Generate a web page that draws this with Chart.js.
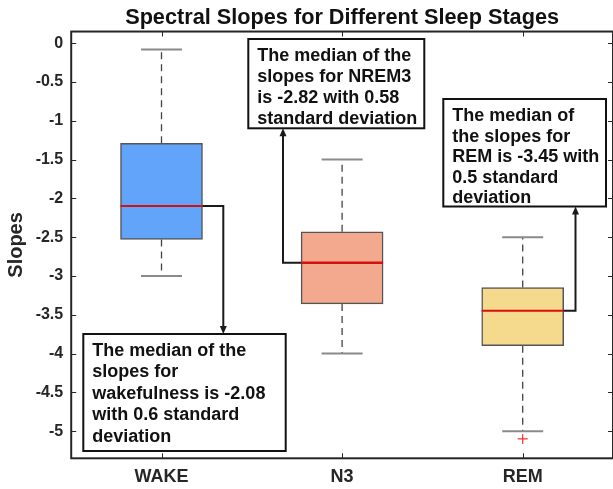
<!DOCTYPE html>
<html><head><meta charset="utf-8">
<script src="https://cdn.jsdelivr.net/npm/chart.js@4.4.1/dist/chart.umd.min.js"></script>
<style>html,body{margin:0;padding:0;background:#fff;}#wrap{width:613px;height:489px;}</style>
</head><body><div id="wrap"><canvas id="c" width="613" height="489"></canvas></div>
<script>
const categories = ['WAKE', 'N3', 'REM'];
const whiskerHigh = [-0.08, -1.5, -2.5];
const q3 = [-1.29, -2.43, -3.15];
const medians = [-2.1, -2.83, -3.45];
const q1 = [-2.53, -3.36, -3.9];
const whiskerLow = [-3.0, -4.0, -5.0];
const outliers = [null, null, -5.1];
const yTicks = [0, -0.5, -1, -1.5, -2, -2.5, -3, -3.5, -4, -4.5, -5];
const boxColors = ['#62a4f9', '#f2a98d', '#f5d98d'];
const titleText = 'Spectral Slopes for Different Sleep Stages';
const yTitle = 'Slopes';
const noteLines = [
  ['The median of the', 'slopes for', 'wakefulness is -2.08', 'with 0.6 standard', 'deviation'],
  ['The median of the', 'slopes for NREM3', 'is -2.82 with 0.58', 'standard deviation'],
  ['The median of', 'the slopes for', 'REM is -3.45 with', '0.5 standard', 'deviation']
];
// layout of the annotation boxes (pixels), line spacing and arrow elbows
const noteBoxes = [[83.3, 334, 285.7, 451], [248.3, 39, 424.3, 128.3], [443.3, 99, 606, 206.5]];
const noteSpacing = [21.4, 20.9, 20.5];
const noteSide = ['right', 'left', 'right'];
const noteElbowX = [223.3, 283, 575.5];

const FONT = '"Liberation Sans", Arial, sans-serif';
const INK = '#262626';

const boxPlugin = {
  id: 'boxParts',
  beforeDatasetsDraw(chart) {
    const ctx = chart.ctx, xs = chart.scales.x, ys = chart.scales.y;
    ctx.save();
    categories.forEach((c, i) => {
      const x = xs.getPixelForValue(i);
      ctx.strokeStyle = '#444';
      ctx.lineWidth = 1.3;
      ctx.setLineDash([7, 5]);
      ctx.beginPath();
      ctx.moveTo(x, ys.getPixelForValue(q3[i])); ctx.lineTo(x, ys.getPixelForValue(whiskerHigh[i]));
      ctx.moveTo(x, ys.getPixelForValue(q1[i])); ctx.lineTo(x, ys.getPixelForValue(whiskerLow[i]));
      ctx.stroke();
      ctx.setLineDash([]);
      ctx.strokeStyle = '#8a8a8a';
      ctx.lineWidth = 2;
      ctx.beginPath();
      const hw = 20.5;
      let yy = ys.getPixelForValue(whiskerHigh[i]);
      ctx.moveTo(x - hw, yy); ctx.lineTo(x + hw, yy);
      yy = ys.getPixelForValue(whiskerLow[i]);
      ctx.moveTo(x - hw, yy); ctx.lineTo(x + hw, yy);
      ctx.stroke();
    });
    ctx.restore();
  },
  afterDatasetsDraw(chart) {
    const ctx = chart.ctx, ys = chart.scales.y;
    const meta = chart.getDatasetMeta(0);
    ctx.save();
    categories.forEach((c, i) => {
      const bar = meta.data[i];
      const y = ys.getPixelForValue(medians[i]);
      ctx.strokeStyle = '#d41010';
      ctx.lineWidth = i === 1 ? 2.6 : 2;
      ctx.beginPath();
      ctx.moveTo(bar.x - bar.width / 2, y); ctx.lineTo(bar.x + bar.width / 2, y);
      ctx.stroke();
    });
    ctx.restore();
  },
  afterDraw(chart) {
    const ctx = chart.ctx, ys = chart.scales.y, xs = chart.scales.x;
    const a = chart.chartArea;
    const meta = chart.getDatasetMeta(0);
    ctx.save();
    // frame
    ctx.strokeStyle = INK;
    ctx.lineWidth = 2;
    ctx.strokeRect(a.left, a.top, a.right - a.left, a.bottom - a.top);
    // inward ticks
    ctx.lineWidth = 1;
    ctx.beginPath();
    yTicks.forEach(v => {
      const y = Math.round(ys.getPixelForValue(v)) + 0.5;
      ctx.moveTo(a.left, y); ctx.lineTo(a.left + 5, y);
      ctx.moveTo(a.right, y); ctx.lineTo(a.right - 5, y);
    });
    categories.forEach((c, i) => {
      const x = Math.round(xs.getPixelForValue(i)) + 0.5;
      ctx.moveTo(x, a.top); ctx.lineTo(x, a.top + 5);
      ctx.moveTo(x, a.bottom); ctx.lineTo(x, a.bottom - 5);
    });
    ctx.stroke();
    // annotations
    noteLines.forEach((lines, i) => {
      const [l, t, r, b] = noteBoxes[i];
      const bar = meta.data[i];
      const y0 = ys.getPixelForValue(medians[i]);
      const x0 = noteSide[i] === 'right' ? bar.x + bar.width / 2 : bar.x - bar.width / 2;
      const ex = noteElbowX[i];
      const ty = t > y0 ? t : b;
      ctx.strokeStyle = '#1a1a1a';
      ctx.fillStyle = '#1a1a1a';
      ctx.lineWidth = 2;
      ctx.beginPath();
      ctx.moveTo(x0, y0); ctx.lineTo(ex, y0);
      const dir = ty > y0 ? 1 : -1;
      ctx.lineTo(ex, ty - dir * 6);
      ctx.stroke();
      ctx.beginPath();
      ctx.moveTo(ex, ty); ctx.lineTo(ex - 3.5, ty - dir * 8); ctx.lineTo(ex + 3.5, ty - dir * 8);
      ctx.closePath(); ctx.fill();
      ctx.fillStyle = '#fff';
      ctx.fillRect(l, t, r - l, b - t);
      ctx.strokeStyle = '#111';
      ctx.lineWidth = 2;
      ctx.strokeRect(l, t, r - l, b - t);
      ctx.fillStyle = '#111';
      ctx.font = 'bold 18px ' + FONT;
      ctx.textBaseline = 'alphabetic';
      ctx.textAlign = 'left';
      lines.forEach((s, k) => ctx.fillText(s, l + 9, t + 22 + k * noteSpacing[i]));
    });
    ctx.restore();
  }
};

new Chart(document.getElementById('c'), {
  data: {
    labels: categories,
    datasets: [
      {
        type: 'bar',
        data: categories.map((c, i) => [q1[i], q3[i]]),
        backgroundColor: boxColors,
        borderColor: '#555',
        borderWidth: 1.5,
        borderSkipped: false,
        barThickness: 82
      },
      {
        type: 'line',
        data: outliers,
        showLine: false,
        pointStyle: 'cross',
        pointRadius: 5,
        pointBorderColor: '#ff3030',
        pointBorderWidth: 1.2,
        pointBackgroundColor: '#ff3030'
      }
    ]
  },
  options: {
    responsive: false,
    animation: false,
    devicePixelRatio: 1,
    layout: { autoPadding: false, padding: { left: 0, right: -2.5, top: 0, bottom: 0 } },
    plugins: {
      legend: { display: false },
      tooltip: { enabled: false },
      title: {
        display: true, text: titleText, fullSize: false, color: '#111',
        font: { family: FONT, size: 21.7, weight: 'bold', lineHeight: 1.2 },
        padding: { top: 5, bottom: 0.5 }
      }
    },
    scales: {
      x: {
        type: 'category',
        offset: true,
        grid: { display: false, drawTicks: false },
        border: { display: false },
        ticks: { color: INK, padding: 8, font: { family: FONT, size: 18, weight: 'bold' } },
        afterFit(s) { s.height = 30.7; }
      },
      y: {
        type: 'linear',
        min: -5.35, max: 0.15,
        grid: { display: false, drawTicks: false },
        border: { display: false },
        afterBuildTicks(s) { s.ticks = yTicks.map(v => ({ value: v })); },
        ticks: { color: INK, padding: 8, font: { family: FONT, size: 16, weight: 'bold' }, callback: v => String(v) },
        title: { display: true, text: yTitle, color: INK, font: { family: FONT, size: 20, weight: 'bold' }, padding: { top: 4, bottom: 4 } },
        afterFit(s) { s.width = 71.2; }
      }
    }
  },
  plugins: [boxPlugin]
});
</script>
</body></html>
